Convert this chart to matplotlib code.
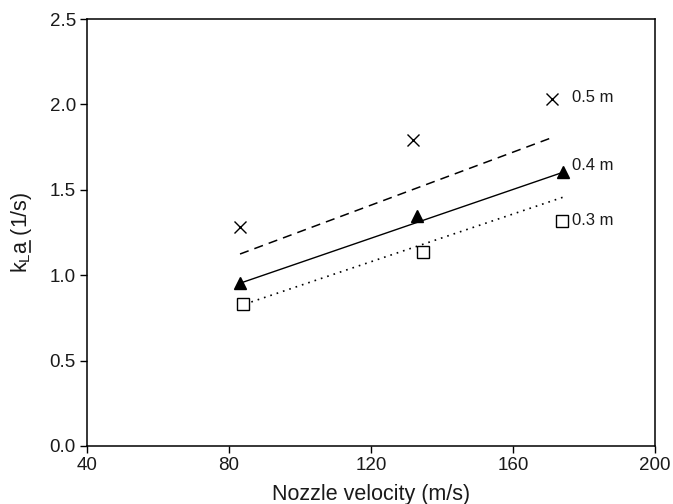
import matplotlib.pyplot as plt
from matplotlib.lines import Line2D

plt.rcParams['font.family'] = ['Liberation Sans', 'DejaVu Sans']
plt.rcParams['mathtext.fontset'] = 'custom'
plt.rcParams['mathtext.rm'] = 'Liberation Sans'
plt.rcParams['mathtext.it'] = 'Liberation Sans'

# measured points, nozzle velocity (m/s) vs kLa (1/s)
x_05 = [83.1, 131.9, 170.9]
y_05 = [1.28, 1.79, 2.03]
x_04 = [83.1, 133.0, 174.0]
y_04 = [0.953, 1.347, 1.602]
x_03 = [83.9, 134.7, 173.7]
y_03 = [0.831, 1.134, 1.319]

# fitted lines (end points)
fit_x_05 = [83.1, 170.9]
fit_y_05 = [1.124, 1.805]
fit_x_04 = [83.1, 174.0]
fit_y_04 = [0.953, 1.602]
fit_x_03 = [84.5, 174.0]
fit_y_03 = [0.831, 1.456]

labels = ['0.5 m', '0.4 m', '0.3 m']
label_x = [176.5, 176.5, 176.5]
label_y = [2.04, 1.64, 1.32]

txt = '#1a1a1a'

fig = plt.figure(figsize=(6.73, 5.04), dpi=100)
ax = fig.add_axes([0.1293, 0.1151, 0.8440, 0.8472])

ax.plot(fit_x_05, fit_y_05, color='black', lw=1.1, linestyle=(0, (6, 4)))
ax.plot(fit_x_04, fit_y_04, color='black', lw=1.0, linestyle='-')
ax.plot(fit_x_03, fit_y_03, color='black', lw=1.2, linestyle=(0, (1, 3)))

ax.plot(x_05, y_05, 'x', color='black', ms=9, mew=1.0)
ax.plot(x_04, y_04, '^', color='black', ms=9)
ax.plot(x_03, y_03, 's', mfc='white', mec='black', ms=8, mew=1.0)

for t, lx, ly in zip(labels, label_x, label_y):
    ax.text(lx, ly, t, fontsize=12, va='center', ha='left', color=txt)

ax.set_xlim(40, 200)
ax.set_ylim(0, 2.5)
ax.set_xticks([40, 80, 120, 160, 200])
ax.set_yticks([0.0, 0.5, 1.0, 1.5, 2.0, 2.5])
ax.set_yticklabels(['0.0', '0.5', '1.0', '1.5', '2.0', '2.5'])
ax.tick_params(direction='out', length=5, width=1, labelsize=13.5,
               labelcolor=txt, pad=3)
ax.set_xlabel('Nozzle velocity (m/s)', fontsize=15.5, labelpad=7, color=txt)
ylab_str = 'k$_{\\mathregular{L}}$a (1/s)'
ax.set_ylabel(ylab_str, fontsize=15.5, labelpad=11, color=txt)
for s in ax.spines.values():
    s.set_linewidth(1.1)

# underline the "a" in the y label (mathtext has no \underline)
fig.canvas.draw()
r = fig.canvas.get_renderer()
lab = ax.yaxis.label
fp = lab.get_fontproperties()
bb = lab.get_window_extent(r)
w_pre, _, _ = r.get_text_width_height_descent('k$_{\\mathregular{L}}$', fp, ismath=True)
w_a, _, _ = r.get_text_width_height_descent('a', fp, ismath=False)
_, _, d_full = r.get_text_width_height_descent(ylab_str, fp, ismath=True)
ux = bb.x1 - d_full + 3
uy0 = bb.y0 + w_pre
uy1 = uy0 + w_a
inv = fig.transFigure.inverted()
p0 = inv.transform((ux, uy0))
p1 = inv.transform((ux, uy1))
fig.add_artist(Line2D([p0[0], p1[0]], [p0[1], p1[1]], transform=fig.transFigure,
                      color=txt, lw=1.2))

fig.savefig('out.png', dpi=100)
